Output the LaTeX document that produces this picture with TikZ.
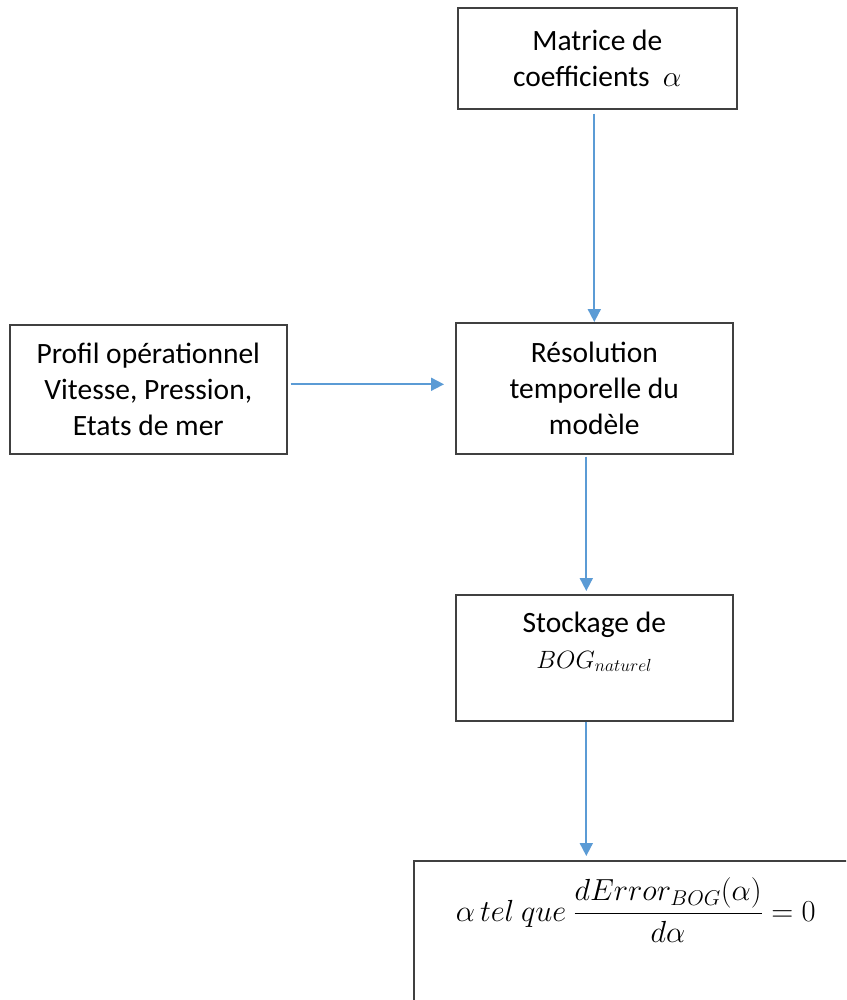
\RequirePackage{fix-cm}
\documentclass[tikz,border=0pt]{standalone}
\usepackage{fontspec}
\setmainfont{Carlito}
\usetikzlibrary{arrows.meta,calc}
\definecolor{arrowblue}{HTML}{5B9BD5}
\definecolor{boxgray}{HTML}{404040}
\begin{document}
\begin{tikzpicture}[x=1pt,y=-1pt,
  box/.style={draw=boxgray, line width=1.6pt, fill=white, align=center,
    font=\fontsize{29.5}{36}\selectfont, anchor=north west, inner sep=0pt},
  arr/.style={draw=arrowblue, line width=1.8pt, -{Triangle[length=13pt,width=13pt]}}]
\clip (0,0) rectangle (846,1000);
\fill[white] (0,0) rectangle (846,1000);

\node[box, minimum width=279pt, minimum height=101pt] (m) at (457,7)
  {Matrice de\\coefficients~ $\alpha$};
\node[box, minimum width=277pt, minimum height=129pt] (p) at (9,324)
  {Profil opérationnel\\Vitesse, Pression,\\Etats de mer};
\node[box, minimum width=277pt, minimum height=131pt] (r) at (455,322)
  {Résolution\\temporelle du\\modèle};
\node[box, minimum width=277pt, minimum height=126pt] (s) at (455,594)
  {Stockage de\\{\fontsize{25}{36}\selectfont$BOG_{naturel}$}\\\mbox{}};
\node[box, minimum width=444pt, inner ysep=17pt, font=\fontsize{30.5}{36}\selectfont] (e) at (413,860)
  {$\displaystyle \alpha\,tel\ que\ \frac{dError_{BOG}(\alpha)}{d\alpha}=0$\rule[-100pt]{0pt}{0pt}};

\draw[arr, shorten <=4pt] (m.south -| r.north) -- (r.north);
\draw[arr, shorten <=3pt, shorten >=11pt] ([yshift=5pt]p.east) -- ([yshift=5pt]p.east -| r.west);
\draw[arr, shorten <=2pt, shorten >=3pt] ([xshift=-8pt]r.south) -- ([xshift=-8pt]s.north);
\draw[arr, shorten >=4pt] ([xshift=-8pt]s.south) -- ([xshift=-8pt]s.south |- e.north);
\end{tikzpicture}
\end{document}
